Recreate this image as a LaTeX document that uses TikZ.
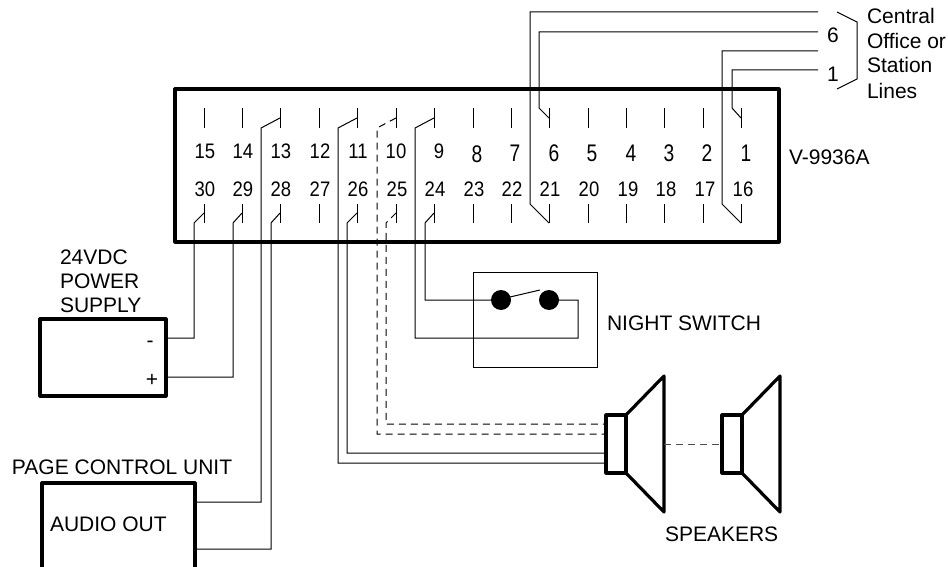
\documentclass[tikz,border=0pt]{standalone}
\usepackage{fontspec}
\setmainfont{Liberation Sans}
\newfontfamily\numfont[FakeStretch=0.88]{Liberation Sans}
\newfontfamily\tallfont[FakeStretch=0.8]{Liberation Sans}
\begin{document}
\begin{tikzpicture}[x=1pt,y=-1pt,
  every node/.style={outer sep=0pt},
  wire/.style={line width=1pt,line join=miter},
  dwire/.style={wire,dash pattern=on 7pt off 5pt},
  heavy/.style={line width=3.2pt,line join=round},
  spk/.style={line width=3.2pt,line join=round},
  lbl/.style={inner sep=0pt,font=\fontsize{21pt}{24pt}\selectfont},
  numl/.style={inner sep=0pt,font=\fontsize{21pt}{24pt}\selectfont\numfont},
  numt/.style={inner sep=0pt,font=\fontsize{24pt}{24pt}\selectfont\tallfont},
  pin/.style={line width=1pt}]
\useasboundingbox (0,0) rectangle (948,567);
% main box
\node[draw,heavy,minimum width=604pt,minimum height=153pt,inner sep=0pt,anchor=north west] (box) at (175,89) {};
% pin stubs
\foreach \i/\x in {15/204,14/242,13/280,12/319,11/357,10/396,9/434,8/473,7/511,6/549,5/588,4/626,3/664,2/703,1/741}{
  \coordinate (t\i) at (\x,108); \coordinate (tb\i) at (\x,128); \coordinate (tm\i) at (\x,118);
  \draw[pin] (t\i) -- (tb\i);
}
\foreach \i/\x in {30/204,29/242,28/280,27/319,26/357,25/396,24/434,23/473,22/511,21/549,20/588,19/626,18/664,17/703,16/741}{
  \coordinate (b\i) at (\x,204); \coordinate (bb\i) at (\x,223); \coordinate (bm\i) at (\x,213);
  \draw[pin] (b\i) -- (bb\i);
}
% pin numbers
\foreach \i/\x in {15/205,14/243,13/281,12/320,11/358,10/396,9/439}
  \node[numl] (n\i) at (\x,151) {\i};
\foreach \i/\x/\y in {8/477/154,7/515/153,6/554/153,5/592/153,4/631/153,3/669/153,2/707/153,1/746/153}
  \node[numt] (n\i) at (\x,\y) {\i};
\foreach \i/\x in {30/205,29/243,28/281,27/320,26/358,25/397,24/435,23/474,22/512,21/550,20/589,19/628,18/666,17/705,16/743}
  \node[numl] (n\i) at (\x,189.5) {\i};
% boxes
\node[draw,heavy,minimum width=126pt,minimum height=77pt,inner sep=0pt,anchor=north west] (psu) at (40,319) {};
\draw[heavy] (42,570) -- (42,483) -- (195,483) -- (195,570);
\coordinate (pcuA) at (195,502); \coordinate (pcuB) at (195,549);
\node[draw,line width=1pt,minimum width=124pt,minimum height=95pt,inner sep=0pt,anchor=north west] (sw) at (473,272) {};
\node[circle,fill=black,minimum size=20pt,inner sep=0pt] (d1) at (501,300) {};
\node[circle,fill=black,minimum size=20pt,inner sep=0pt] (d2) at (549,300) {};
\draw[wire] (d1) ++(9,-3) coordinate (s1) -- (540,290) coordinate (s2);
% speakers
\node[draw,spk,minimum width=20pt,minimum height=58pt,inner sep=0pt,anchor=north west] (sp1) at (606,415) {};
\draw[spk] (sp1.north east) -- (664,376) -- (664,512) -- (sp1.south east);
\node[draw,spk,minimum width=20pt,minimum height=58pt,inner sep=0pt,anchor=north west] (sp2) at (722,415) {};
\draw[spk] (sp2.north east) -- (780,376) -- (780,512) -- (sp2.south east);
\coordinate (c1) at (664,444);
\draw[dwire,draw=black!70] (c1) -- (c1 -| sp2.west);
% wires
\draw[wire] (tm13) -- (261,128) -- (261,502) -- (pcuA);
\draw[wire] (bm28) -- (271,223) -- (271,549) -- (pcuB);
\draw[wire] (bm30) -- (194,223) -- (194,338) -- (psu.east |- 0,338);
\draw[wire] (bm29) -- (233,223) -- (233,377) -- (psu.east |- 0,377);
\draw[wire] (tm11) -- (338,128) -- (338,463) -- (sp1.west |- 0,463);
\draw[wire] (bm26) -- (347,223) -- (347,453) -- (sp1.west |- 0,453);
\draw[dwire] (tm10) -- (377,128) -- (377,434) -- (sp1.west |- 0,434);
\draw[dwire] (bm25) -- (386,223) -- (386,424) -- (sp1.west |- 0,424);
\draw[wire] (tm9) -- (415,128) -- (415,338) -- (578,338) -- (578,300) -- (d2);
\draw[wire] (bm24) -- (425,223) -- (425,300) -- (d1);
\coordinate (r1) at (818,12); \coordinate (r2) at (818,32); \coordinate (r3) at (818,51); \coordinate (r4) at (818,70);
\draw[wire] (r1) -- (530,12) -- (530,204) -- (bb21);
\draw[wire] (r2) -- (539,32) -- (539,108) -- (tm6);
\draw[wire] (r3) -- (722,51) -- (722,204) -- (bb16);
\draw[wire] (r4) -- (732,70) -- (732,108) -- (tm1);
% bracket
\draw[wire] (837,12) -- (857,22) -- (857,79) -- (837,89);
% labels
\node[lbl,anchor=west] at (867,16) {Central};
\node[lbl,anchor=west] at (867,41) {Office or};
\node[lbl,anchor=west] at (867,65) {Station};
\node[lbl,anchor=west] at (867,91) {Lines};
\node[lbl] at (833,35) {6};
\node[lbl] at (833,74) {1};
\node[lbl,anchor=west] at (789,157) {V-9936A};
\node[lbl,anchor=west] at (60,257) {24VDC};
\node[lbl,anchor=west] at (60,281) {POWER};
\node[lbl,anchor=west] at (60,305) {SUPPLY};
\node[lbl] at (150,344) {-};
\node[lbl] at (152,380) {+};
\node[lbl,anchor=west] at (12,467.5) {PAGE CONTROL UNIT};
\node[lbl,anchor=west] at (50,524.5) {AUDIO OUT};
\node[lbl,anchor=west] at (607,323) {NIGHT SWITCH};
\node[lbl,anchor=west] at (665,534) {SPEAKERS};
\end{tikzpicture}
\end{document}
